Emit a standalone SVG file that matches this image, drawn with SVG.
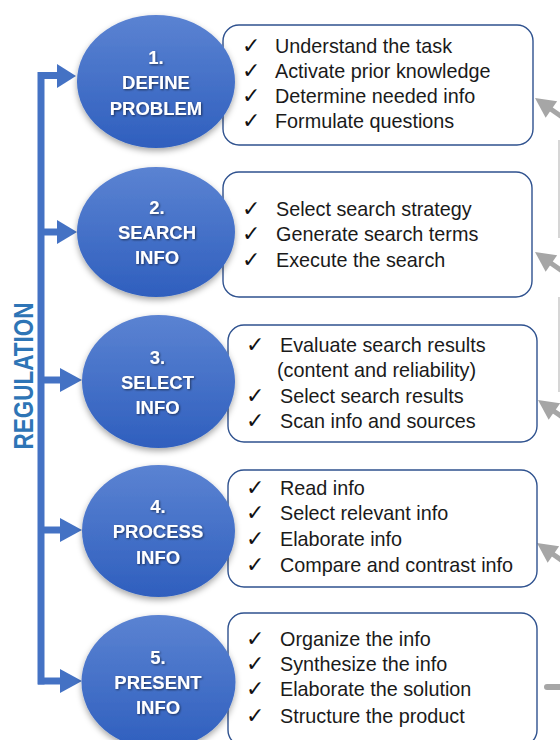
<svg xmlns="http://www.w3.org/2000/svg" xmlns:xlink="http://www.w3.org/1999/xlink" width="560" height="740" viewBox="0 0 560 740">
<style>
.box{fill:#fff;stroke:#2f528f;stroke-width:1.4}
.stage{fill:url(#blueGrad);filter:url(#shadow)}
.st{font-family:"Liberation Sans",Arial,sans-serif;font-weight:bold;font-size:18.5px;fill:#fff;text-anchor:middle;filter:url(#tshadow)}
.it{font-family:"Liberation Sans",Arial,sans-serif;font-size:19.8px;fill:#1a1a1a}
.ck{font-family:"DejaVu Sans",sans-serif;font-size:22px;fill:#111}
.reg{font-family:"Liberation Sans",Arial,sans-serif;font-weight:bold;font-size:28px;fill:#2e75b6;text-anchor:middle}
.bl{stroke:#4472c4;stroke-width:7;fill:none}
.bh{fill:#4472c4}
.gl{stroke:#a6a6a6;stroke-width:5;fill:none}
.gh{fill:#a6a6a6}
</style>
<defs>
<linearGradient id="blueGrad" x1="0" y1="0" x2="0" y2="1">
<stop offset="0" stop-color="#5b83d2"/>
<stop offset="1" stop-color="#2f5fbe"/>
</linearGradient>
<filter id="shadow" x="-20%" y="-20%" width="140%" height="150%">
<feDropShadow dx="0" dy="3" stdDeviation="3" flood-color="#000" flood-opacity="0.35"/>
</filter>
<filter id="tshadow" x="-20%" y="-30%" width="140%" height="160%">
<feDropShadow dx="1" dy="1" stdDeviation="0.8" flood-color="#000" flood-opacity="0.55"/>
</filter>
<g id="garrow">
<line class="gl" x1="16" y1="0" x2="45" y2="0"/>
<polygon class="gh" points="0,0 20,-10 20,10"/>
</g>
</defs>
<rect width="560" height="740" fill="#fff"/>

<g id="connectors">
<line class="bl" x1="41" y1="72" x2="41" y2="684.5"/>
<line class="bl" x1="38" y1="75.5" x2="60" y2="75.5"/>
<polygon class="bh" points="57,64 76,76 57,88"/>
<line class="bl" x1="41" y1="232" x2="60" y2="232"/>
<polygon class="bh" points="57,220 77,232 57,244"/>
<line class="bl" x1="41" y1="380" x2="62" y2="380"/>
<polygon class="bh" points="60,368 82,380 60,392"/>
<line class="bl" x1="41" y1="530" x2="62" y2="530"/>
<polygon class="bh" points="60,518 82,530 60,542"/>
<line class="bl" x1="38" y1="681" x2="62" y2="681"/>
<polygon class="bh" points="60,669 82,681 60,693"/>
<use xlink:href="#garrow" href="#garrow" transform="translate(535,98) rotate(35)"/>
<use xlink:href="#garrow" href="#garrow" transform="translate(535,252) rotate(35)"/>
<use xlink:href="#garrow" href="#garrow" transform="translate(538,400) rotate(35)"/>
<use xlink:href="#garrow" href="#garrow" transform="translate(537,543) rotate(35)"/>
<line x1="547" y1="687" x2="565" y2="687" stroke="#a6a6a6" stroke-width="6" stroke-linecap="round"/>
<line x1="559" y1="140" x2="559" y2="238" stroke="#c8c8c8" stroke-width="1.5"/>
<line x1="559" y1="297" x2="559" y2="392" stroke="#c8c8c8" stroke-width="1.5"/>
</g>

<g id="regulation">
<text class="reg" transform="translate(33,376) rotate(-90)" x="0" y="0" textLength="147" lengthAdjust="spacingAndGlyphs">REGULATION</text>
</g>

<g id="box1">
<rect class="box" x="223" y="25" width="310" height="120" rx="16"/>
<text class="ck" x="242" y="53">✓</text><text class="it" x="275" y="53">Understand the task</text>
<text class="ck" x="242" y="78">✓</text><text class="it" x="275" y="78">Activate prior knowledge</text>
<text class="ck" x="242" y="103">✓</text><text class="it" x="275" y="103">Determine needed info</text>
<text class="ck" x="242" y="128">✓</text><text class="it" x="275" y="128">Formulate questions</text>
</g>
<g id="box2">
<rect class="box" x="223" y="172" width="309" height="125" rx="16"/>
<text class="ck" x="242" y="216">✓</text><text class="it" x="276" y="216">Select search strategy</text>
<text class="ck" x="242" y="241">✓</text><text class="it" x="276" y="241">Generate search terms</text>
<text class="ck" x="242" y="267">✓</text><text class="it" x="276" y="267">Execute the search</text>
</g>
<g id="box3">
<rect class="box" x="228" y="325" width="309" height="117" rx="16"/>
<text class="ck" x="246" y="352">✓</text><text class="it" x="280" y="352">Evaluate search results</text>
<text class="it" x="277" y="377">(content and reliability)</text>
<text class="ck" x="246" y="403">✓</text><text class="it" x="280" y="403">Select search results</text>
<text class="ck" x="246" y="428">✓</text><text class="it" x="280" y="428">Scan info and sources</text>
</g>
<g id="box4">
<rect class="box" x="228" y="470" width="309" height="117" rx="16"/>
<text class="ck" x="246" y="495">✓</text><text class="it" x="280" y="495">Read info</text>
<text class="ck" x="246" y="520">✓</text><text class="it" x="280" y="520">Select relevant info</text>
<text class="ck" x="246" y="546">✓</text><text class="it" x="280" y="546">Elaborate info</text>
<text class="ck" x="246" y="572">✓</text><text class="it" x="280" y="572">Compare and contrast info</text>
</g>
<g id="box5">
<rect class="box" x="228" y="613" width="309" height="133" rx="16"/>
<text class="ck" x="246" y="646">✓</text><text class="it" x="280" y="646">Organize the info</text>
<text class="ck" x="246" y="671">✓</text><text class="it" x="280" y="671">Synthesize the info</text>
<text class="ck" x="246" y="696">✓</text><text class="it" x="280" y="696">Elaborate the solution</text>
<text class="ck" x="246" y="723">✓</text><text class="it" x="280" y="723">Structure the product</text>
</g>

<g id="stage1">
<ellipse class="stage" cx="156" cy="81.5" rx="79" ry="66.5"/>
<text class="st" x="156" y="64">1.</text>
<text class="st" x="156" y="89">DEFINE</text>
<text class="st" x="156" y="115">PROBLEM</text>
</g>
<g id="stage2">
<ellipse class="stage" cx="156" cy="232" rx="79" ry="65"/>
<text class="st" x="157" y="214">2.</text>
<text class="st" x="157" y="239">SEARCH</text>
<text class="st" x="157" y="264">INFO</text>
</g>
<g id="stage3">
<ellipse class="stage" cx="158.5" cy="381.5" rx="76.5" ry="66.5"/>
<text class="st" x="157.5" y="364">3.</text>
<text class="st" x="157.5" y="389">SELECT</text>
<text class="st" x="157.5" y="414">INFO</text>
</g>
<g id="stage4">
<ellipse class="stage" cx="158.5" cy="531" rx="76.5" ry="66"/>
<text class="st" x="158" y="513">4.</text>
<text class="st" x="158" y="538">PROCESS</text>
<text class="st" x="158" y="564">INFO</text>
</g>
<g id="stage5">
<ellipse class="stage" cx="158.5" cy="682" rx="77" ry="67"/>
<text class="st" x="158" y="664">5.</text>
<text class="st" x="158" y="689">PRESENT</text>
<text class="st" x="158" y="714">INFO</text>
</g>
</svg>
